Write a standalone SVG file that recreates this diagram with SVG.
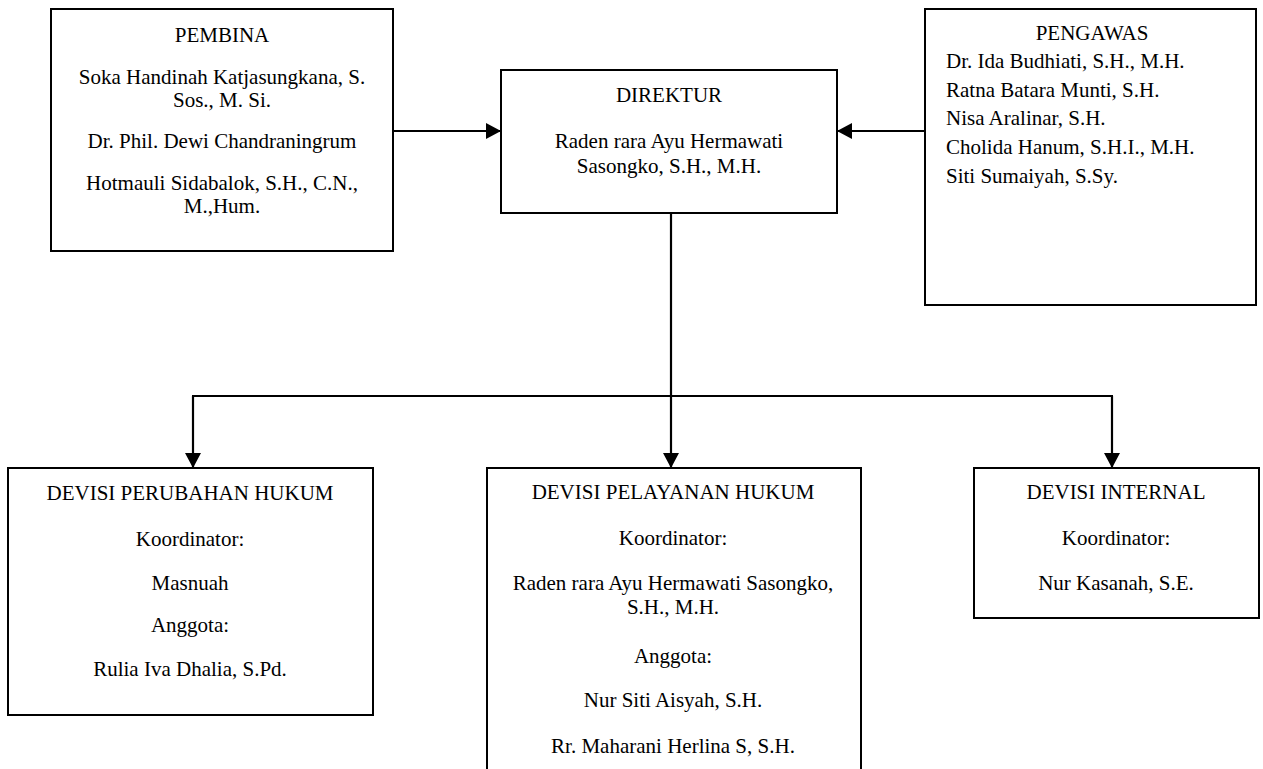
<svg xmlns="http://www.w3.org/2000/svg" width="1263" height="769" viewBox="0 0 1263 769">
<style>
.box{fill:#fff;stroke:#000;stroke-width:2}
.t{font-family:"Liberation Serif","Times New Roman",serif;font-size:21px;fill:#000}
.c{text-anchor:middle}
.ln{fill:none;stroke:#000;stroke-width:2.2}
</style>
<defs>
<marker id="ah" markerUnits="userSpaceOnUse" markerWidth="16" markerHeight="16" refX="15" refY="8" orient="auto">
<path d="M0,0 L15,8 L0,16 z" fill="#000"/>
</marker>
</defs>
<rect width="1263" height="769" fill="#fff"/>
<g id="connectors">
<line class="ln" x1="393" y1="131" x2="501" y2="131" marker-end="url(#ah)"/>
<line class="ln" x1="925" y1="131" x2="837" y2="131" marker-end="url(#ah)"/>
<line class="ln" x1="671" y1="213" x2="671" y2="468" marker-end="url(#ah)"/>
<line class="ln" x1="192" y1="396" x2="1113" y2="396"/>
<line class="ln" x1="193" y1="396" x2="193" y2="468" marker-end="url(#ah)"/>
<line class="ln" x1="1112" y1="396" x2="1112" y2="468" marker-end="url(#ah)"/>
</g>
<g id="pembina">
<rect class="box" x="51" y="9" width="342" height="242"/>
<text class="t c" x="222" y="42">PEMBINA</text>
<text class="t c" x="222" y="84">Soka Handinah Katjasungkana, S.<tspan x="222" dy="23">Sos., M. Si.</tspan></text>
<text class="t c" x="222" y="148">Dr. Phil. Dewi Chandraningrum</text>
<text class="t c" x="222" y="190">Hotmauli Sidabalok, S.H., C.N.,<tspan x="222" dy="23">M.,Hum.</tspan></text>
</g>
<g id="direktur">
<rect class="box" x="501" y="70" width="336" height="143"/>
<text class="t c" x="669" y="102">DIREKTUR</text>
<text class="t c" x="669" y="148">Raden rara Ayu Hermawati<tspan x="669" dy="25">Sasongko, S.H., M.H.</tspan></text>
</g>
<g id="pengawas">
<rect class="box" x="925" y="9" width="331" height="296"/>
<text class="t c" x="1092" y="40">PENGAWAS</text>
<text class="t" x="946" y="68">Dr. Ida Budhiati, S.H., M.H.</text>
<text class="t" x="946" y="97">Ratna Batara Munti, S.H.</text>
<text class="t" x="946" y="125">Nisa Aralinar, S.H.</text>
<text class="t" x="946" y="154">Cholida Hanum, S.H.I., M.H.</text>
<text class="t" x="946" y="183">Siti Sumaiyah, S.Sy.</text>
</g>
<g id="devisi-perubahan">
<rect class="box" x="8" y="468" width="365" height="247"/>
<text class="t c" x="190" y="500">DEVISI PERUBAHAN HUKUM</text>
<text class="t c" x="190" y="546">Koordinator:</text>
<text class="t c" x="190" y="590">Masnuah</text>
<text class="t c" x="190" y="632">Anggota:</text>
<text class="t c" x="190" y="676">Rulia Iva Dhalia, S.Pd.</text>
</g>
<g id="devisi-pelayanan">
<rect class="box" x="487" y="468" width="374" height="320"/>
<text class="t c" x="673" y="499">DEVISI PELAYANAN HUKUM</text>
<text class="t c" x="673" y="545">Koordinator:</text>
<text class="t c" x="673" y="590">Raden rara Ayu Hermawati Sasongko,<tspan x="673" dy="24">S.H., M.H.</tspan></text>
<text class="t c" x="673" y="663">Anggota:</text>
<text class="t c" x="673" y="707">Nur Siti Aisyah, S.H.</text>
<text class="t c" x="673" y="753">Rr. Maharani Herlina S, S.H.</text>
</g>
<g id="devisi-internal">
<rect class="box" x="974" y="468" width="285" height="150"/>
<text class="t c" x="1116" y="499">DEVISI INTERNAL</text>
<text class="t c" x="1116" y="545">Koordinator:</text>
<text class="t c" x="1116" y="590">Nur Kasanah, S.E.</text>
</g>
</svg>
